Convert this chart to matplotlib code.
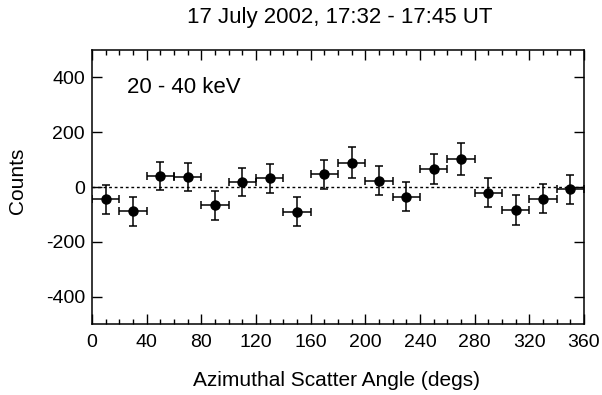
#!/usr/bin/env python3
"""Azimuthal scatter angle distribution, 20-40 keV, 17 July 2002 flare."""
import matplotlib
matplotlib.use("Agg")
import matplotlib.pyplot as plt
from matplotlib.ticker import MultipleLocator

plt.rcParams["font.family"] = ["Liberation Sans", "DejaVu Sans"]
plt.rcParams["axes.unicode_minus"] = False

# bin centres (degs), half-widths and counts
angle = [10, 30, 50, 70, 90, 110, 130, 150, 170,
         190, 210, 230, 250, 270, 290, 310, 330, 350]
angle_err = [10] * 18
counts = [-45, -89, 40, 36, -66, 18, 32, -90, 46,
          89, 23, -36, 65, 103, -21, -84, -42, -9]
counts_err = [52, 53, 52, 52, 53, 52, 53, 53, 54,
              56, 54, 53, 55, 58, 53, 53, 53, 53]

TITLE = "17 July 2002, 17:32 - 17:45 UT"
BAND = "20 - 40 keV"
XLABEL = "Azimuthal Scatter Angle (degs)"
YLABEL = "Counts"


def main():
    W, H = 602, 395
    fig = plt.figure(figsize=(W / 100, H / 100), dpi=100)
    # axes box: x 92..584 px, y 50..324 px
    ax = fig.add_axes([92 / W, 1 - 324 / H, 492 / W, 274 / H])

    ax.axhline(0, color="black", linestyle=(0, (2, 2)), linewidth=1.0, zorder=1)
    ax.errorbar(angle, counts, xerr=angle_err, yerr=counts_err,
                fmt="o", color="black", markersize=6.5, elinewidth=1.1,
                capsize=3, capthick=1.1, zorder=3)

    ax.set_xlim(0, 360)
    ax.set_ylim(-500, 500)
    ax.xaxis.set_major_locator(MultipleLocator(40))
    ax.xaxis.set_minor_locator(MultipleLocator(10))
    ax.yaxis.set_major_locator(MultipleLocator(200))
    ax.yaxis.set_minor_locator(plt.NullLocator())
    ax.tick_params(which="both", direction="in", top=True, right=True,
                   labelsize=14, width=1.0)
    ax.tick_params(axis="x", pad=7)
    ax.tick_params(axis="y", pad=5)
    ax.tick_params(which="major", length=7)
    ax.tick_params(which="minor", length=3.6)
    for sp in ax.spines.values():
        sp.set_linewidth(1.1)

    fig.text(337 / W, 1 - 380 / H, XLABEL, ha="center", va="center", fontsize=15)
    fig.text(17 / W, 1 - 181 / H, YLABEL, ha="center", va="center",
             rotation=90, fontsize=15)
    fig.text(340 / W, 1 - 17 / H, TITLE, ha="center", va="center", fontsize=16)
    ax.text(0.071, 0.862, BAND, transform=ax.transAxes, ha="left", va="center",
            fontsize=16)

    fig.savefig("out.png", dpi=100)
    plt.close(fig)


if __name__ == "__main__":
    main()
